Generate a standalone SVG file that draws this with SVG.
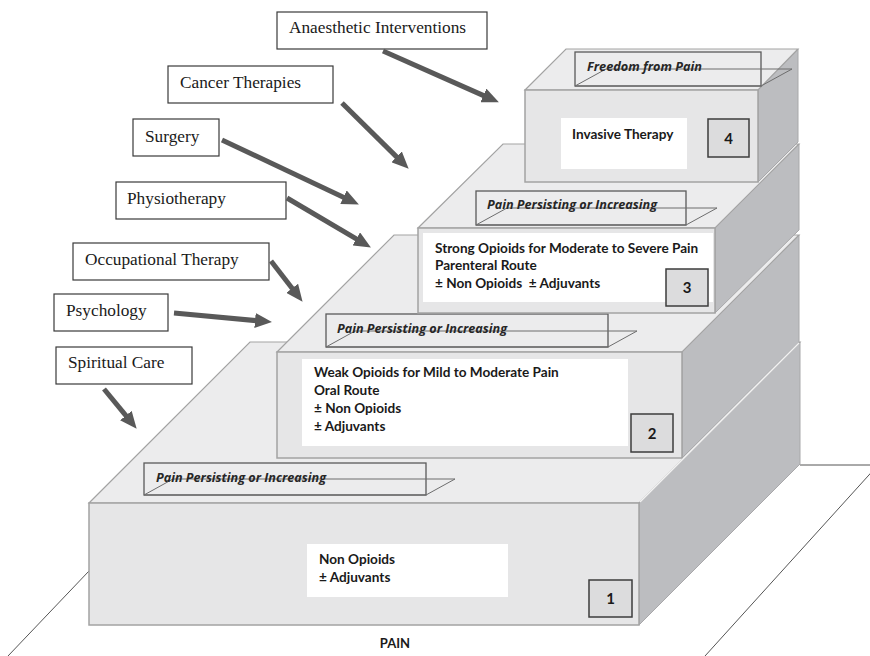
<svg xmlns="http://www.w3.org/2000/svg" width="870" height="656" viewBox="0 0 870 656">
<style>
.front{fill:#e6e6e7;stroke:#a3a3a3;stroke-width:1.5}
.top{fill:#ececed;stroke:#a3a3a3;stroke-width:1.2}
.side{fill:#bcbdc0;stroke:#a8a8aa;stroke-width:1}
.seam{stroke:#f2f2f2;stroke-width:1.5;fill:none}
.panel{fill:#ffffff}
.num{fill:#dcdcdd;stroke:#3d3d3d;stroke-width:1.5}
.numt{font-family:Lato,"Open Sans",sans-serif;font-weight:bold;font-size:15px;text-anchor:middle;fill:#1a1a1a}
.lbl{fill:none;stroke:#5a5a5a;stroke-width:1.3}
.para{fill:none;stroke:#6d6d6d;stroke-width:1}
.lt{font-family:"Open Sans",Lato,sans-serif;font-weight:bold;font-style:italic;font-size:12px;fill:#262626}
.bt{font-family:Lato,"Open Sans",sans-serif;font-weight:bold;font-size:13.6px;fill:#1a1a1a}
.sb{fill:#ffffff;stroke:#3a3a3a;stroke-width:1.2}
.st{font-family:"Liberation Serif","Times New Roman",serif;font-size:17.3px;fill:#1a1a1a}
.arr{stroke:#595959;stroke-width:5;fill:none;marker-end:url(#ah)}
.floor{fill:none;stroke:#555555;stroke-width:1}
</style>
<defs>
<marker id="ah" markerUnits="userSpaceOnUse" markerWidth="17" markerHeight="15" refX="4" refY="7.5" orient="auto">
<path d="M0,0 L17,7.5 L0,15 z" fill="#595959"/>
</marker>
</defs>

<g id="floor">
<line class="floor" x1="89" y1="571" x2="8" y2="656"/>
<polyline class="floor" points="800,465 878,465 705,656"/>
</g>

<g id="step1">
<polygon class="side" points="639,503 800,342 800,464 639,625"/>
<polygon class="top" points="89,503 639,503 800,342 250,342"/>
<rect class="front" x="89" y="503" width="550" height="122"/>
<rect class="panel" x="307" y="544" width="201" height="53"/>
<text class="bt" x="319" y="564">Non Opioids</text>
<text class="bt" x="319" y="582">± Adjuvants</text>
<rect class="num" x="589" y="580" width="43" height="37"/>
<text class="numt" x="610.5" y="604">1</text>
</g>

<g id="label1">
<rect class="lbl" x="144" y="463" width="282" height="32"/>
<polygon class="para" points="144,495 173,479 455,479 426,495"/>
<text class="lt" x="156" y="482" textLength="170" lengthAdjust="spacingAndGlyphs">Pain Persisting or Increasing</text>
</g>

<g id="step2">
<polygon class="side" points="682,352 799,235 799,342 682,458"/>
<polygon class="top" points="277,352 682,352 799,235 394,235"/>
<rect class="front" x="277" y="352" width="405" height="106"/>
<line class="seam" x1="640" y1="502" x2="799" y2="343"/>
<rect class="panel" x="302" y="359" width="326" height="87"/>
<text class="bt" x="314" y="377">Weak Opioids for Mild to Moderate Pain</text>
<text class="bt" x="314" y="395">Oral Route</text>
<text class="bt" x="314" y="413">± Non Opioids</text>
<text class="bt" x="314" y="431">± Adjuvants</text>
<rect class="num" x="631" y="414" width="42" height="38"/>
<text class="numt" x="652" y="439">2</text>
</g>

<g id="label2">
<rect class="lbl" x="326" y="314" width="282" height="33"/>
<polygon class="para" points="326,347 355,331 637,331 608,347"/>
<text class="lt" x="337" y="333" textLength="170" lengthAdjust="spacingAndGlyphs">Pain Persisting or Increasing</text>
</g>

<g id="step3">
<polygon class="side" points="715,228 799,144 799,230 715,313"/>
<polygon class="top" points="418,228 715,228 799,144 503,144"/>
<rect class="front" x="418" y="228" width="297" height="85"/>
<rect class="panel" x="423" y="233" width="290" height="69"/>
<text class="bt" x="435" y="253">Strong Opioids for Moderate to Severe Pain</text>
<text class="bt" x="435" y="270">Parenteral Route</text>
<text class="bt" x="435" y="288" xml:space="preserve">± Non Opioids  ± Adjuvants</text>
<rect class="num" x="666" y="269" width="42" height="37"/>
<text class="numt" x="687" y="293">3</text>
</g>

<g id="label3">
<rect class="lbl" x="476" y="191" width="210" height="34"/>
<polygon class="para" points="476,225 507,208 717,208 686,225"/>
<text class="lt" x="487" y="209" textLength="170" lengthAdjust="spacingAndGlyphs">Pain Persisting or Increasing</text>
</g>

<g id="step4">
<polygon class="side" points="758,90 798,49 798,142 758,182"/>
<polygon class="top" points="525,90 758,90 798,49 566,49"/>
<rect class="front" x="525" y="90" width="233" height="92"/>
<rect class="panel" x="561" y="118" width="126" height="51"/>
<text class="bt" x="572" y="139">Invasive Therapy</text>
<rect class="num" x="708" y="119" width="41" height="38"/>
<text class="numt" x="728.5" y="144">4</text>
</g>

<g id="label4">
<rect class="lbl" x="575" y="52" width="186" height="34"/>
<polygon class="para" points="575,86 606,69 792,69 761,86"/>
<text class="lt" x="587" y="71" textLength="115" lengthAdjust="spacingAndGlyphs">Freedom from Pain</text>
</g>

<g id="pain">
<text x="395" y="648" text-anchor="middle" style="font-family:Lato,'Open Sans',sans-serif;font-weight:bold;font-size:13px;fill:#1a1a1a">PAIN</text>
</g>

<g id="anaesthetic"><rect class="sb" x="277" y="12" width="210" height="37"/><text class="st" x="289" y="33">Anaesthetic Interventions</text></g>
<g id="cancer"><rect class="sb" x="168" y="66" width="165" height="37"/><text class="st" x="180" y="88">Cancer Therapies</text></g>
<g id="surgery"><rect class="sb" x="133" y="119" width="86" height="37"/><text class="st" x="145" y="142">Surgery</text></g>
<g id="physio"><rect class="sb" x="116" y="182" width="170" height="37"/><text class="st" x="127" y="204">Physiotherapy</text></g>
<g id="occupational"><rect class="sb" x="73" y="243" width="196" height="37"/><text class="st" x="85" y="265">Occupational Therapy</text></g>
<g id="psychology"><rect class="sb" x="54" y="294" width="114" height="37"/><text class="st" x="66" y="316">Psychology</text></g>
<g id="spiritual"><rect class="sb" x="56" y="347" width="136" height="37"/><text class="st" x="68" y="368">Spiritual Care</text></g>

<g id="connectors">
<line class="arr" x1="383" y1="51" x2="487" y2="97.1"/>
<line class="arr" x1="342" y1="103" x2="399.4" y2="159.6"/>
<line class="arr" x1="222" y1="140" x2="347.1" y2="198.9"/>
<line class="arr" x1="287" y1="198" x2="359.7" y2="240.9"/>
<line class="arr" x1="271" y1="261" x2="294.6" y2="291.5"/>
<line class="arr" x1="174" y1="313" x2="259" y2="320.9"/>
<line class="arr" x1="104" y1="389" x2="128.4" y2="418.7"/>
</g>
</svg>
